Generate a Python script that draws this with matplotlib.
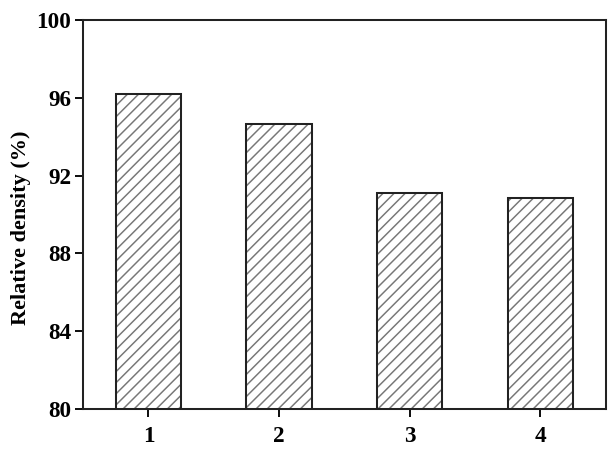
import matplotlib
matplotlib.use('Agg')
import matplotlib.pyplot as plt

# 데이터
samples = ['1', '2', '3', '4']
density = [96.2, 94.63, 91.08, 90.82]

# dpi를 높여 해칭 간격을 넓힘 (616x449 픽셀 유지)
DPI = 133.33

plt.rcParams['font.family'] = 'Liberation Serif'
plt.rcParams['font.weight'] = 'bold'
plt.rcParams['hatch.linewidth'] = 0.8

fig, ax = plt.subplots(figsize=(616 / DPI, 449 / DPI), dpi=DPI)
fig.subplots_adjust(left=0.135, right=0.983, top=0.955, bottom=0.09)

x = range(1, len(samples) + 1)
# 회색 해칭
ax.bar(x, density, width=0.5, bottom=0, color='white', edgecolor='#777777',
       linewidth=0, hatch='////')
# 검은 테두리
ax.bar(x, density, width=0.5, bottom=0, fill=False, edgecolor='#222222',
       linewidth=1.1)

ax.set_xlim(0.5, 4.5)
ax.set_ylim(80, 100)
ax.set_xticks(list(x))
ax.set_xticklabels(samples)
ax.set_yticks([80, 84, 88, 92, 96, 100])
ax.set_ylabel('Relative density (%)', fontsize=12, fontweight='bold')
ax.yaxis.set_label_coords(-0.10, 0.465)
ax.tick_params(direction='out', length=4.5, width=1.0, labelsize=12.5)
ax.tick_params(axis='x', pad=5)
ax.tick_params(axis='y', pad=2)

for s in ax.spines.values():
    s.set_linewidth(1.1)
    s.set_color('#222222')

plt.savefig('out.png', dpi=DPI)
